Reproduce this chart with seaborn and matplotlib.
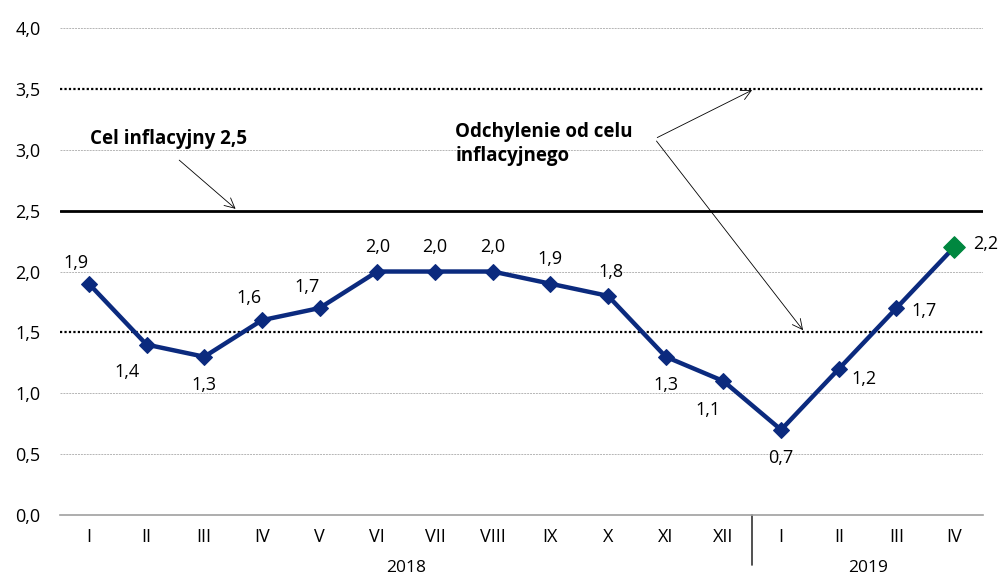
import pandas as pd
import matplotlib.pyplot as plt
import seaborn as sns

# Data
months = ["I", "II", "III", "IV", "V", "VI", "VII", "VIII", "IX", "X", "XI", "XII",
          "I", "II", "III", "IV"]
years = ["2018"] * 12 + ["2019"] * 4
inflation = [1.9, 1.4, 1.3, 1.6, 1.7, 2.0, 2.0, 2.0, 1.9, 1.8, 1.3, 1.1,
             0.7, 1.2, 1.7, 2.2]
target = 2.5
band_low, band_high = 1.5, 3.5

df = pd.DataFrame({"pos": range(len(months)), "month": months,
                   "year": years, "cpi": inflation})

# label offsets (points) for each value label
label_offsets = [(-9, 15), (-14, -20), (0, -20), (-9, 16), (-9, 15), (0, 18),
                 (0, 18), (0, 18), (0, 18), (2, 17), (0, -20), (-11, -21),
                 (0, -20), (18, -7), (20, -2), (23, 2)]

sns.set_style("white")
plt.rcParams["font.family"] = ["Open Sans", "DejaVu Sans"]
plt.rcParams["text.color"] = "black"
plt.rcParams["xtick.labelcolor"] = "black"
plt.rcParams["ytick.labelcolor"] = "black"

fig = plt.figure(figsize=(10, 5.79), dpi=100)
ax = fig.add_axes([0.060, 0.1105, 0.923, 0.8411])

# grid
for y in [0.5, 1.0, 2.0, 3.0, 4.0]:
    ax.axhline(y, color="#b5b5b5", lw=0.7, ls=(0, (2, 1)), zorder=0)
ax.axhline(band_low, color="black", lw=1.6, ls=(0, (1, 1)), zorder=1)
ax.axhline(band_high, color="black", lw=1.6, ls=(0, (1, 1)), zorder=1)
ax.axhline(target, color="black", lw=2.0, zorder=1)

navy = "#0b2a7e"
green = "#00873f"
sns.lineplot(data=df, x="pos", y="cpi", ax=ax, color=navy, lw=3.2,
             marker="D", markersize=8, markeredgecolor=navy, zorder=3)
last = df.iloc[[-1]]
sns.scatterplot(data=last, x="pos", y="cpi", ax=ax, color=green, marker="D",
                s=120, edgecolor=green, zorder=4, legend=False)

for (_, r), off in zip(df.iterrows(), label_offsets):
    ax.annotate(f"{r.cpi:.1f}".replace(".", ","), (r.pos, r.cpi),
                xytext=off, textcoords="offset points", ha="center",
                va="center", fontsize=13, color="black")

# annotations
arrow = dict(arrowstyle="->", color="black", lw=0.6, mutation_scale=18)
ax.annotate("", xy=(2.58, target), xytext=(1.53, 2.93), arrowprops=arrow)
ax.text(0.02, 3.09, "Cel inflacyjny 2,5", fontsize=13.5, fontweight="bold",
        ha="left", va="center")
ax.text(6.35, 3.05, "Odchylenie od celu\ninflacyjnego", fontsize=13.5,
        fontweight="bold", ha="left", va="center", linespacing=1.25)
start = (9.81, 3.09)
ax.annotate("", xy=(11.54, band_high), xytext=start, arrowprops=arrow)
ax.annotate("", xy=(12.41, band_low), xytext=start, arrowprops=arrow)

# axes
ax.set_xlim(-0.5, len(months) - 0.5)
ax.set_ylim(0, 4.0)
ax.set_yticks([0, 0.5, 1.0, 1.5, 2.0, 2.5, 3.0, 3.5, 4.0])
ax.set_yticklabels([f"{v:.1f}".replace(".", ",") for v in ax.get_yticks()],
                   fontsize=13)
ax.set_xticks(df["pos"])
ax.set_xticklabels(months, fontsize=13)
ax.set_xticks([p - 0.5 for p in range(len(months) + 1)], minor=True)
ax.tick_params(axis="x", which="major", length=0, pad=9)
ax.tick_params(axis="x", which="minor", length=5, color="#a0a0a0", width=1)
ax.tick_params(axis="y", length=0, pad=14)
ax.set_xlabel("")
ax.set_ylabel("")
for s in ["top", "right", "left"]:
    ax.spines[s].set_visible(False)
ax.spines["bottom"].set_color("#a0a0a0")
ax.spines["bottom"].set_linewidth(1.2)

# year labels and separator
trans = ax.get_xaxis_transform()
ax.plot([11.5, 11.5], [0, -0.103], transform=trans, color="#333333", lw=1.2,
        clip_on=False)
for yr in ["2018", "2019"]:
    pos = df.loc[df["year"] == yr, "pos"]
    ax.text(pos.mean(), -0.108, yr, transform=trans, ha="center", va="center",
            fontsize=12.5)

fig.savefig("out.png", dpi=100)
